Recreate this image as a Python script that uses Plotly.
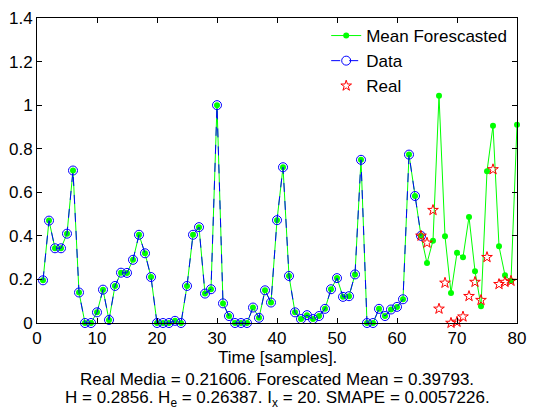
import plotly.graph_objects as go

t_all = list(range(1, 81))
mean_forecasted = [0.196, 0.47, 0.343, 0.343, 0.41, 0.70, 0.14, 0.0, 0.0, 0.049,
                   0.153, 0.014, 0.17, 0.231, 0.23, 0.29, 0.405, 0.32, 0.211, 0.0,
                   0.0, 0.0, 0.01, 0.0, 0.17, 0.405, 0.44, 0.135, 0.155, 1.0,
                   0.09, 0.032, 0.0, 0.0, 0.0, 0.071, 0.024, 0.15, 0.094, 0.472,
                   0.715, 0.216, 0.049, 0.018, 0.036, 0.018, 0.032, 0.065, 0.155, 0.206,
                   0.12, 0.123, 0.223, 0.749, 0.0, 0.0, 0.065, 0.032, 0.062, 0.074,
                   0.109, 0.773, 0.583, 0.40, 0.275, 0.378, 1.043, 0.398, 0.138, 0.322,
                   0.302, 0.487, 0.238, 0.077, 0.697, 0.905, 0.352, 0.219, 0.193, 0.91]
t_data = list(range(1, 65))
data_vals = mean_forecasted[:64]
t_real = list(range(64, 80))
real_vals = [0.40, 0.368, 0.518, 0.065, 0.184, 0.0, 0.005, 0.029, 0.123, 0.188,
             0.105, 0.302, 0.705, 0.178, 0.188, 0.193]

x_ticks = [0, 10, 20, 30, 40, 50, 60, 70, 80]
y_ticks = [0, 0.2, 0.4, 0.6, 0.8, 1, 1.2, 1.4]

font = dict(family="Liberation Sans, Arial, sans-serif", size=17, color="black")

fig = go.Figure()
fig.add_trace(go.Scatter(x=t_all, y=mean_forecasted, mode="lines+markers", name="Mean Forescasted",
                         line=dict(color="#00ff00", width=1), marker=dict(color="#00ff00", size=6),
                         cliponaxis=False))
fig.add_trace(go.Scatter(x=t_data, y=data_vals, mode="lines+markers", name="Data",
                         line=dict(color="#0000ff", width=1, dash="dash"),
                         marker=dict(symbol="circle-open", color="#0000ff", size=9, line=dict(width=1)),
                         cliponaxis=False))
fig.add_trace(go.Scatter(x=t_real, y=real_vals, mode="markers", name="Real",
                         marker=dict(symbol="star-open", color="#ff0000", size=8, line=dict(width=1)),
                         cliponaxis=False))

axis_common = dict(showgrid=False, zeroline=False, showline=True, linecolor="black", linewidth=1,
                   mirror="ticks", ticks="inside", ticklen=5, tickcolor="black", tickfont=font)
fig.update_xaxes(range=[0, 80], tickvals=x_ticks, **axis_common)
fig.update_yaxes(range=[0, 1.4], tickvals=y_ticks, **axis_common)

lines = ["Time [samples].",
         "Real Media = 0.21606. Forescated Mean = 0.39793.",
         "H = 0.2856. H<sub>e</sub> = 0.26387. I<sub>x</sub> = 20. SMAPE = 0.0057226."]
shifts = [-23, -45, -63]
for txt, s in zip(lines, shifts):
    fig.add_annotation(text=txt, xref="paper", yref="paper", x=0.5, y=0, xanchor="center",
                       yanchor="top", yshift=s, showarrow=False, font=font)

fig.update_layout(width=535, height=414, margin=dict(l=37, r=9, t=16, b=91),
                  paper_bgcolor="white", plot_bgcolor="white", font=font,
                  showlegend=True,
                  legend=dict(x=0.99, y=1.0, xanchor="right", yanchor="top",
                              bgcolor="rgba(255,255,255,0)", borderwidth=0, font=font,
                              tracegroupgap=0, itemwidth=30))
fig.write_html("out.html")
